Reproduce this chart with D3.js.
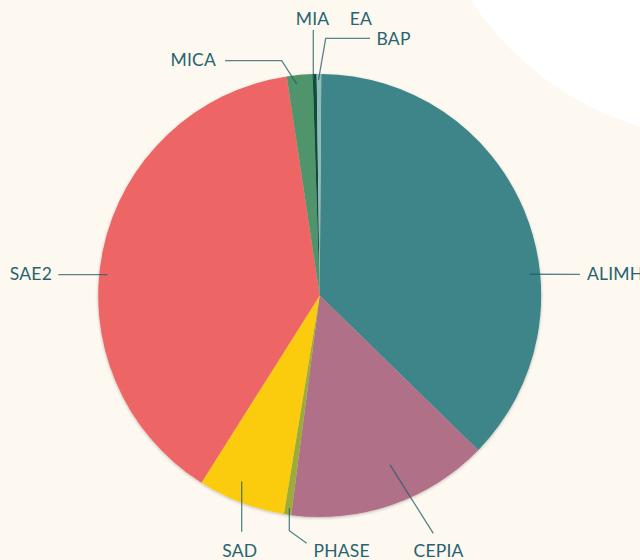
<!DOCTYPE html>
<html>
<head>
<meta charset="utf-8">
<script src="https://cdn.jsdelivr.net/npm/d3@7"></script>
<style>
  html, body { margin: 0; padding: 0; background: #fdf8f0; }
  #plot_area { width: 640px; height: 560px; }
</style>
</head>
<body>
<div id="plot_area"></div>
<script>
// share of each programme (%)
var names = ['ALIMH', 'CEPIA', 'PHASE', 'SAD', 'SAE2', 'MICA', 'MIA', 'EA', 'BAP']
var values = [37.2, 14.75, 0.53, 6.38, 38.66, 1.87, 0.29, 0, 0.33]
var colors = ['#3e8589', '#b06f87', '#9dab3d', '#fbcb0e', '#ee6565', '#4f946a', '#0e4d3d', '#8fbcba', '#8fbcba']

var width = 640, height = 560
var cx = 319.7, cy = 295.5, radius = 221.5

var svg = d3.select('#plot_area')
  .append('svg')
  .attr('width', width)
  .attr('height', height)

svg.append('rect')
  .attr('width', width)
  .attr('height', height)
  .attr('fill', '#fdf8f0')

// white blob in the top right corner
svg.append('circle')
  .attr('cx', 730)
  .attr('cy', -170)
  .attr('r', 310)
  .attr('fill', '#ffffff')

var defs = svg.append('defs')
var shadow = defs.append('filter')
  .attr('id', 'shadow')
  .attr('x', '-10%').attr('y', '-10%')
  .attr('width', '120%').attr('height', '120%')
shadow.append('feDropShadow')
  .attr('dx', 0).attr('dy', 1)
  .attr('stdDeviation', 1.5)
  .attr('flood-color', '#000')
  .attr('flood-opacity', 0.25)

var data = names.map(function(n, i) { return {name: n, value: values[i], color: colors[i]} })

var start = 0.4 * Math.PI / 180
var pie = d3.pie()
  .sort(null)
  .value(function(d) { return d.value })
  .startAngle(start)
  .endAngle(start + 2 * Math.PI)

var arcs = pie(data)

var arc = d3.arc()
  .innerRadius(0)
  .outerRadius(radius)

var g = svg.append('g')
  .attr('transform', 'translate(' + cx + ',' + cy + ')')

g.append('g')
  .attr('filter', 'url(#shadow)')
  .selectAll('path')
  .data(arcs)
  .enter()
  .append('path')
  .attr('d', arc)
  .attr('fill', function(d) { return d.data.color })

// label layout: t = position inside slice, k = radius factor, pts = elbows, then text
var layout = {
  'ALIMH': {t: 0.626, k: 0.954, pts: [[580, 274.3]], text: [587, 279.5], anchor: 'start'},
  'SAE2':  {t: 0.455, k: 0.963, pts: [[58.3, 274.7]], text: [52, 279.5], anchor: 'end'},
  'SAD':   {t: 0.585, k: 0.911, pts: [[241.7, 531.7]], text: [239.7, 557], anchor: 'middle'},
  'PHASE': {t: 0.38, k: 0.97, pts: [[289.3, 530.7], [306.7, 543.3]], text: [313.5, 557], anchor: 'start'},
  'CEPIA': {t: 0.436, k: 0.828, pts: [[433.3, 533.3]], text: [413.5, 557], anchor: 'start'},
  'MICA':  {t: 0.353, k: 0.96, pts: [[281.7, 60.7], [225, 60.7]], text: [216, 65.5], anchor: 'end'},
  'MIA':   {t: 0.3, k: 0.973, pts: [[313.3, 30]], text: [312.5, 24.5], anchor: 'middle'},
  'EA':    {t: 0.5, k: 0, pts: null, text: [361, 24.5], anchor: 'middle'},
  'BAP':   {t: 0.4, k: 0.973, pts: [[325.7, 38.3], [370, 38.3]], text: [376.5, 44.5], anchor: 'start'}
}

function polar(a, r) {
  return [cx + r * Math.sin(a), cy - r * Math.cos(a)]
}

var labels = svg.append('g')

arcs.forEach(function(d) {
  var L = layout[d.data.name]
  if (L.pts) {
    var a = d.startAngle + L.t * (d.endAngle - d.startAngle)
    var inner = polar(a, L.k * radius)
    // vertical MIA line keeps x of its elbow
    if (d.data.name === 'MIA') inner[0] = L.pts[0][0]
    var pts = [inner].concat(L.pts)
    labels.append('path')
      .attr('d', d3.line()(pts))
      .attr('fill', 'none')
      .attr('stroke', '#1f5d68')
      .attr('stroke-opacity', 0.75)
      .attr('stroke-width', 1.3)
  }
  labels.append('text')
    .attr('x', L.text[0])
    .attr('y', L.text[1])
    .attr('text-anchor', L.anchor)
    .style('font-family', 'Lato, sans-serif')
    .style('font-size', '17.5px')
    .style('letter-spacing', '0.2px')
    .style('fill', '#26646f')
    .text(d.data.name)
})
</script>
</body>
</html>
